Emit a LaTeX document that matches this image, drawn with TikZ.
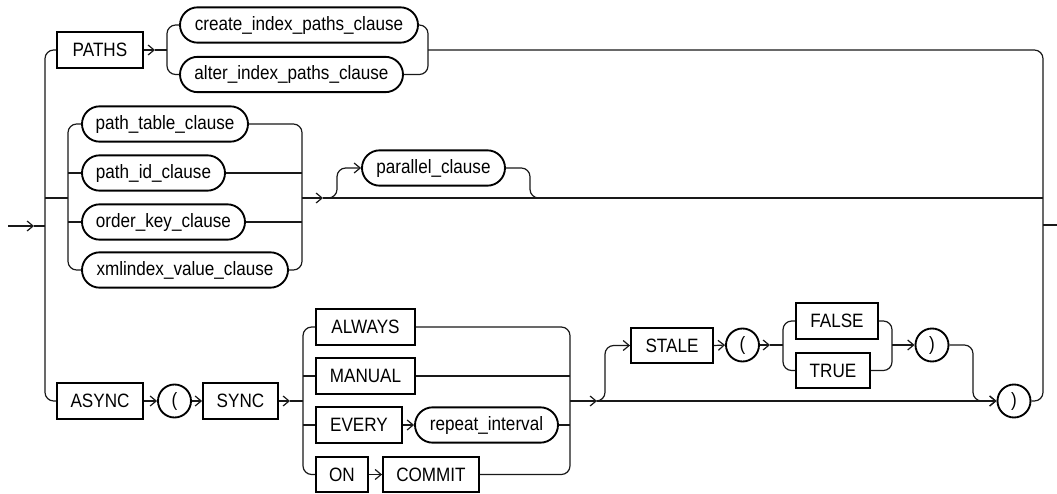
\documentclass[tikz,border=0pt]{standalone}
\usepackage{fontspec}
\newfontfamily\rr[FakeStretch=0.885]{Liberation Sans}
\usetikzlibrary{shapes.misc,arrows.meta}
\tikzset{
  rail/.style={line width=0.9pt, draw=black!90},
  rc/.style={rail, rounded corners=6.5pt},
  go/.style={-{Straight Barb[length=4.5pt,width=7.5pt,line width=0.9pt]}},
  box/.style={draw, line width=1.4pt, inner sep=0pt, minimum height=26.5pt,
              font=\rr\fontsize{14.5pt}{17pt}\selectfont},
  kw/.style={box, rectangle},
  nt/.style={box, rounded rectangle},
  tok/.style={box, circle, minimum size=24.75pt}
}
\begin{document}
\begin{tikzpicture}[x=0.75pt,y=-0.75pt]
\useasboundingbox (0,0) rectangle (1057,493);

% ---- PATHS branch
\node[kw, minimum width=64.5pt]   (paths)  at (100,50)    {PATHS};
\node[nt, minimum width=178.5pt]  (cre)    at (299,25)    {create\_index\_paths\_clause};
\node[nt, minimum width=167.25pt] (alt)    at (291.5,74.5){alter\_index\_paths\_clause};

% ---- path clauses
\node[nt, minimum width=124.5pt]  (ptab)   at (165,124)   {path\_table\_clause};
\node[nt, minimum width=107.25pt] (pid)    at (153.5,173) {path\_id\_clause};
\node[nt, minimum width=122.25pt] (okey)   at (163.5,222) {order\_key\_clause};
\node[nt, minimum width=154.5pt]  (xval)   at (185,270)   {xmlindex\_value\_clause};
\node[nt, minimum width=107.25pt] (par)    at (433.5,168) {parallel\_clause};

% ---- ASYNC branch
\node[kw, minimum width=64.5pt]   (async)  at (100,401)   {ASYNC};
\node[tok]                        (lpa)    at (174.5,401) {(};
\node[kw, minimum width=56.25pt]  (sync)   at (240.5,401) {SYNC};
\node[kw, minimum width=74.25pt]  (always) at (365.5,327) {ALWAYS};
\node[kw, minimum width=74.25pt]  (manual) at (365.5,376) {MANUAL};
\node[kw, minimum width=64.5pt]   (every)  at (359,425)   {EVERY};
\node[nt, minimum width=107.25pt] (rep)    at (486.5,425) {repeat\_interval};
\node[kw, minimum width=39pt]     (on)     at (342,474.5) {ON};
\node[kw, minimum width=72pt]     (commit) at (431,474.5) {COMMIT};
\node[kw, minimum width=61.5pt]   (stale)  at (672,345.5) {STALE};
\node[tok]                        (lpb)    at (742.5,345) {(};
\node[kw, minimum width=61.5pt]   (false)  at (837,321)   {FALSE};
\node[kw, minimum width=55.5pt]   (true)   at (833,370.5) {TRUE};
\node[tok]                        (rpb)    at (932,345)   {)};
\node[tok]                        (rpa)    at (1014,401)  {)};

% ---- junction points
\coordinate (start) at (8,226);
\coordinate (startT) at (34,226);
\coordinate (lj) at (45,226);
\coordinate (mid) at (45,198);
\coordinate (pl) at (68,198);
\coordinate (pr) at (302,198);
\coordinate (prT) at (323,198);
\coordinate (pathsT) at (155,50);
\coordinate (ca) at (167,50);
\coordinate (cb) at (428,50);
\coordinate (rj) at (1043,225);
\coordinate (stop) at (1057,225);
\coordinate (syncT) at (290,401);
\coordinate (sl) at (303,401);
\coordinate (sr) at (570,401);
\coordinate (srT) at (597,401);
\coordinate (lpbT) at (770,345);
\coordinate (fl) at (783,345);
\coordinate (fr) at (892,345);

% ---- entry and outer choice
\draw[rail,go] (start) -- (startT);
\draw[rail] (startT) -- (lj);
\draw[rc] (paths.west) -| (lj) |- (async.west);
\draw[rail] (mid) -- (pl);
\draw[rc] (cb) -| (rj) |- (rpa.east);
\draw[rail] (rj) -- (stop);

% ---- PATHS choice
\draw[rail,go] (paths.east) -- (pathsT);
\draw[rail] (pathsT) -- (ca);
\draw[rc] (cre.west) -| (ca) |- (alt.west);
\draw[rc] (cre.east) -| (cb) |- (alt.east);

% ---- path clause choice
\draw[rc] (ptab.west) -| (pl) |- (xval.west);
\draw[rail] (pid.west) -- (pid.west -| pl);
\draw[rail] (okey.west) -- (okey.west -| pl);
\draw[rc] (ptab.east) -| (pr) |- (xval.east);
\draw[rail] (pid.east) -- (pid.east -| pr);
\draw[rail] (okey.east) -- (okey.east -| pr);

% ---- optional parallel_clause
\draw[rail,go] (pr) -- (prT);
\draw[rail] (prT) -- (prT -| rj);
\draw[rc,go] (prT) -| (337,168) -- (par.west);
\draw[rc] (par.east) -| (530,198) -- (542,198);

% ---- ASYNC ( SYNC
\draw[rail,go] (async.east) -- (lpa.west);
\draw[rail,go] (lpa.east) -- (sync.west);
\draw[rail,go] (sync.east) -- (syncT);
\draw[rail] (syncT) -- (sl);

% ---- sync mode choice
\draw[rc] (always.west) -| (sl) |- (on.west);
\draw[rail] (manual.west) -- (manual.west -| sl);
\draw[rail] (every.west) -- (every.west -| sl);
\draw[rail,go] (every.east) -- (rep.west);
\draw[rail,go] (on.east) -- (commit.west);
\draw[rc] (always.east) -| (sr) |- (commit.east);
\draw[rail] (manual.east) -- (manual.east -| sr);
\draw[rail] (rep.east) -- (rep.east -| sr);

% ---- optional STALE ( FALSE | TRUE )
\draw[rail,go] (sr) -- (srT);
\draw[rail,go] (srT) -- (rpa.west);
\draw[rc,go] (srT) -| (605,345.5) -- (stale.west);
\draw[rail,go] (stale.east) -- (lpb.west);
\draw[rail,go] (lpb.east) -- (lpbT);
\draw[rail] (lpbT) -- (fl);
\draw[rc] (false.west) -| (fl) |- (true.west);
\draw[rc] (false.east) -| (fr) |- (true.east);
\draw[rail,go] (fr) -- (rpb.west);
\draw[rc,go] (rpb.east) -| (973,401) -- (rpa.west);
\end{tikzpicture}
\end{document}
